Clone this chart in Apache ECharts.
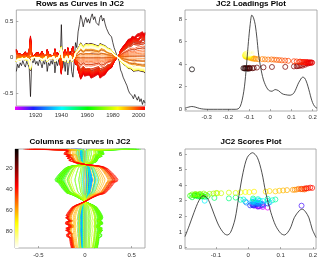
<!DOCTYPE html>
<html><head><meta charset="utf-8">
<script src="https://cdn.jsdelivr.net/npm/echarts@6/dist/echarts.min.js"></script>
<style>html,body{margin:0;padding:0;background:#fff}#c{width:320px;height:259px}</style>
</head><body><div id="c"></div>
<script>
// ---- data ----
const years = [1905,1906,1907,1908,1909,1910,1911,1912,1913,1914,1915,1916,1917,1918,1919,1920,1921,1922,1923,1924,1925,1926,1927,1928,1929,1930,1931,1932,1933,1934,1935,1936,1937,1938,1939,1940,1941,1942,1943,1944,1945,1946,1947,1948,1949,1950,1951,1952,1953,1954,1955,1956,1957,1958,1959,1960,1961,1962,1963,1964,1965,1966,1967,1968,1969,1970,1971,1972,1973,1974,1975,1976,1977,1978,1979,1980,1981,1982,1983,1984,1985,1986,1987,1988,1989,1990,1991,1992,1993,1994,1995,1996,1997,1998,1999,2000,2001,2002,2003,2004,2005];
const columns = [1,2,3,4,5,6,7,8,9,10,11,12,13,14,15,16,17,18,19,20,21,22,23,24,25,26,27,28,29,30,31,32,33,34,35,36,37,38,39,40,41,42,43,44,45,46,47,48,49,50,51,52,53,54,55,56,57,58,59,60,61,62,63,64,65,66,67,68,69,70,71,72,73,74,75,76,77,78,79,80,81,82,83,84,85,86,87,88,89,90,91,92,93,94,95,96];
const singularValue = 9.0;
const rowScores = [
 0.060,0.030,0.045,0.024,0.036,0.015,0.030,0.042,0.018,0.030,
 0.045,0.165,0.015,0.024,0.006,0.030,0.018,0.036,0.012,0.024,
 0.045,0.018,0.030,-0.006,0.060,0.024,0.036,0.015,0.030,-0.009,
 0.066,0.018,0.036,0.012,0.030,-0.135,0.045,0.015,0.060,-0.015,
 0.075,0.030,-0.024,0.060,0.084,0.015,-0.060,-0.039,-0.105,-0.135,
 -0.174,-0.156,-0.126,-0.150,-0.165,-0.144,-0.159,-0.141,-0.165,-0.180,
 -0.156,-0.168,-0.144,-0.150,-0.132,-0.165,-0.174,-0.150,-0.162,-0.138,
 -0.120,-0.108,-0.096,-0.099,-0.084,-0.060,-0.039,-0.024,-0.009,0.003,
 0.018,0.054,0.066,0.084,0.096,0.108,0.120,0.138,0.150,0.144,
 0.162,0.174,0.156,0.168,0.180,0.165,0.186,0.174,0.198,0.180,
 0.192];
const scoreY = [
 2.56,2.66,2.60,2.70,2.64,2.72,2.66,2.74,2.68,2.62,
 2.70,2.68,2.72,2.78,2.70,2.80,2.74,2.82,2.76,2.84,
 2.78,2.86,2.80,2.88,2.82,2.90,2.86,2.92,2.88,2.95,
 2.90,2.96,3.00,2.94,3.02,3.00,2.98,3.05,3.00,3.08,
 3.03,3.10,3.06,3.12,3.08,3.14,3.15,3.20,3.18,3.25,
 3.22,3.28,3.30,3.26,3.32,3.28,3.34,3.30,3.36,3.32,
 3.38,3.34,3.36,3.40,3.38,3.42,3.40,3.44,3.42,3.46,
 3.44,3.46,3.48,3.50,3.48,3.52,3.50,3.54,3.56,3.55,
 3.58,3.58,3.62,3.60,3.64,3.66,3.68,3.70,3.72,3.70,
 3.74,3.72,3.76,3.74,3.78,3.76,3.80,3.78,3.82,3.80,
 3.84];
const colLoadings = [
 -0.370,-0.118,-0.105,-0.122,-0.110,-0.127,-0.100,-0.115,-0.095,-0.108,
 -0.085,-0.098,-0.078,-0.063,-0.032,0.008,0.071,0.112,0.125,0.138,
 0.130,0.152,0.145,0.165,0.158,0.178,0.170,0.188,0.182,0.198,
 0.190,0.195,0.178,0.186,0.170,0.176,0.160,0.165,0.150,0.155,
 0.138,0.142,0.125,0.112,0.085,0.070,0.055,0.042,0.030,0.018,
 0.006,-0.010,-0.025,-0.038,-0.057,-0.068,-0.080,-0.074,-0.090,-0.085,
 -0.100,-0.092,-0.108,-0.098,-0.115,-0.102,-0.118,-0.105,-0.112,-0.096,
 -0.116,-0.104,-0.118,-0.100,-0.112,-0.098,-0.116,-0.102,-0.118,-0.104,
 -0.114,-0.098,-0.112,-0.100,-0.110,-0.094,-0.106,-0.092,-0.104,-0.090,
 -0.100,-0.088,-0.096,-0.085,-0.092,-0.082];
const loadingY = [
 3.54,3.62,3.60,3.63,3.61,3.64,3.62,3.65,3.63,3.66,
 3.64,3.67,3.66,3.70,3.72,3.75,3.76,3.80,3.82,3.84,
 3.83,3.86,3.90,3.95,4.00,4.05,4.08,4.12,4.10,4.14,
 4.16,4.13,4.17,4.15,4.18,4.16,4.19,4.17,4.20,4.18,
 4.21,4.22,4.24,4.26,4.30,4.32,4.34,4.36,4.38,4.40,
 4.42,4.41,4.43,4.45,4.44,4.46,4.48,4.50,4.52,4.55,
 4.58,4.60,4.62,4.64,4.66,4.68,4.70,4.72,4.73,4.75,
 4.76,4.78,4.79,4.80,4.82,4.83,4.84,4.86,4.87,4.88,
 4.89,4.90,4.91,4.92,4.93,4.94,4.95,4.96,4.97,4.98,
 4.99,5.00,5.01,5.02,5.03,5.04];
const loadDensX = [-0.403,-0.385,-0.371,-0.355,-0.335,-0.316,-0.29,-0.25,-0.2,-0.166,-0.152,-0.142,-0.133,-0.125,-0.119,-0.111,-0.103,-0.095,-0.087,-0.079,-0.071,-0.063,-0.056,-0.048,-0.040,-0.032,-0.024,-0.016,-0.008,0.000,0.008,0.016,0.023,0.031,0.039,0.047,0.055,0.063,0.071,0.083,0.094,0.102,0.110,0.118,0.126,0.134,0.142,0.148,0.154,0.162,0.170,0.178,0.186,0.193,0.200,0.210,0.221];
const loadDensY = [0.10,0.20,0.25,0.20,0.08,0.02,0.00,0.00,0.00,0.00,0.04,0.25,0.80,1.60,2.50,4.20,6.00,7.50,8.35,8.10,7.50,6.30,5.00,4.00,3.20,2.60,2.20,1.90,1.70,1.62,1.60,1.68,1.75,1.72,1.65,1.52,1.40,1.33,1.30,1.26,1.25,1.30,1.40,1.65,2.00,2.35,2.60,2.78,2.85,2.78,2.50,2.05,1.50,1.00,0.60,0.25,0.10];
const scoreDensX = [-0.196,-0.183,-0.168,-0.153,-0.140,-0.128,-0.118,-0.106,-0.091,-0.075,-0.065,-0.055,-0.041,-0.029,-0.016,-0.003,0.013,0.028,0.042,0.054,0.070,0.085,0.101,0.112,0.129,0.143,0.158,0.167,0.177,0.188,0.198,0.210];
const scoreDensY = [0.70,1.39,2.25,3.00,3.32,3.20,2.80,2.14,1.39,0.90,0.80,0.96,1.82,3.32,4.82,5.78,6.08,5.78,4.82,3.53,2.25,1.39,0.90,0.80,1.18,1.93,2.36,2.46,2.30,1.90,1.18,0.64];
const yearTicks = [1920,1940,1960,1980,2000];
const rowValTicks = [-0.5,0,0.5];
const loadXTicks = [-0.3,-0.2,-0.1,0,0.1,0.2];
const loadYTicks = [0,2,4,6,8];
const colIdxTicks = [20,40,60,80];
const colValTicks = [-0.5,0,0.5];
const scoreXTicks = [-0.1,0,0.1,0.2];
const scoreYTicks = [0,1,2,3,4,5,6];
const titles = ['Rows as Curves in JC2','JC2 Loadings Plot','Columns as Curves in JC2','JC2 Scores Plot'];

// ---- colours ----
function hotColor(k, m) { // MATLAB hot(m), k 1-based
  const n = Math.floor(3 * m / 8);
  const r = Math.min(k / n, 1);
  const g = Math.max(0, Math.min((k - n) / n, 1));
  const b = Math.max(0, Math.min((k - 2 * n) / (m - 2 * n), 1));
  return 'rgb(' + Math.round(r * 255) + ',' + Math.round(g * 255) + ',' + Math.round(b * 255) + ')';
}
const rainbowStops = [[0,[238,0,255]],[0.14,[30,30,255]],[0.36,[0,255,255]],[0.56,[0,255,0]],[0.79,[255,255,0]],[0.9,[255,128,0]],[1,[255,0,0]]];
function rainbow(p) {
  for (let i = 1; i < rainbowStops.length; i++) {
    if (p <= rainbowStops[i][0]) {
      const a = rainbowStops[i - 1], b = rainbowStops[i];
      const f = (p - a[0]) / (b[0] - a[0]);
      const c = a[1].map((v, q) => Math.round(v + (b[1][q] - v) * f));
      return 'rgb(' + c.join(',') + ')';
    }
  }
  return 'rgb(255,0,0)';
}
const nCol = columns.length, nRow = years.length;
const colColor = columns.map(c => hotColor(c, nCol));
const yearColor = years.map((y, i) => rainbow(i / (nRow - 1)));

// ---- options ----
const FONT = 'Liberation Sans';
const lab = (margin, vals) => ({ fontSize: 6, color: '#333', fontFamily: FONT, margin: margin, customValues: vals, formatter: v => String(+(+v).toFixed(3)) });
const tick = (vals) => ({ show: true, inside: true, length: 2, customValues: vals, lineStyle: { color: '#777', width: 0.6 } });
const noLine = { show: false, onZero: false };
const gridBase = { show: true, borderColor: '#999', borderWidth: 0.8, backgroundColor: 'transparent' };

const series = [];
// top-left: each column as a curve over years
columns.forEach((c, j) => {
  series.push({
    type: 'line', xAxisIndex: 0, yAxisIndex: 0, symbol: 'none', silent: true,
    lineStyle: { width: 0.7, color: colColor[j] },
    data: years.map((y, i) => [y, singularValue * rowScores[i] * colLoadings[j]])
  });
});
// bottom-left: each year as a curve over columns
years.forEach((y, i) => {
  series.push({
    type: 'line', xAxisIndex: 2, yAxisIndex: 2, symbol: 'none', silent: true,
    lineStyle: { width: 0.7, color: yearColor[i] },
    data: columns.map((c, j) => [singularValue * rowScores[i] * colLoadings[j], c])
  });
});
// top-right: loadings density + points
series.push({
  type: 'line', xAxisIndex: 1, yAxisIndex: 1, symbol: 'none', smooth: 0.3, silent: true,
  lineStyle: { width: 0.8, color: '#222' },
  data: loadDensX.map((x, i) => [x, loadDensY[i]])
});
series.push({
  type: 'scatter', xAxisIndex: 1, yAxisIndex: 1, symbol: 'circle', symbolSize: 5, silent: true,
  data: colLoadings.map((v, j) => ({ value: [v, loadingY[j]], itemStyle: { color: 'rgba(0,0,0,0)', borderColor: colColor[j], borderWidth: 0.9 } }))
});
// bottom-right: scores density + points
series.push({
  type: 'line', xAxisIndex: 3, yAxisIndex: 3, symbol: 'none', smooth: 0.3, silent: true,
  lineStyle: { width: 0.8, color: '#222' },
  data: scoreDensX.map((x, i) => [x, scoreDensY[i]])
});
series.push({
  type: 'scatter', xAxisIndex: 3, yAxisIndex: 3, symbol: 'circle', symbolSize: 5, silent: true,
  data: rowScores.map((u, i) => ({ value: [u, scoreY[i]], itemStyle: { color: 'rgba(0,0,0,0)', borderColor: yearColor[i], borderWidth: 0.9 } }))
});

const chart = echarts.init(document.getElementById('c'), null, { renderer: 'canvas' });
const rbStops = rainbowStops.map(s => ({ offset: s[0], color: 'rgb(' + s[1].join(',') + ')' }));
chart.setOption({
  animation: false,
  backgroundColor: '#fff',
  title: [
    { text: titles[0], left: 80, top: 0, textAlign: 'center', padding: 0 },
    { text: titles[1], left: 251, top: 0, textAlign: 'center', padding: 0 },
    { text: titles[2], left: 80, top: 138, textAlign: 'center', padding: 0 },
    { text: titles[3], left: 251, top: 138, textAlign: 'center', padding: 0 }
  ].map(t => Object.assign(t, { textStyle: { fontSize: 8, fontWeight: 'bold', color: '#000', fontFamily: FONT } })),
  grid: [
    Object.assign({ left: 15, top: 10, width: 130, height: 96 }, gridBase),
    Object.assign({ left: 185, top: 10, width: 132, height: 101 }, gridBase),
    Object.assign({ left: 15, top: 149, width: 130, height: 99 }, gridBase),
    Object.assign({ left: 185, top: 149, width: 132, height: 100 }, gridBase)
  ],
  xAxis: [
    { gridIndex: 0, type: 'value', min: 1905, max: 2005, axisLine: noLine, splitLine: { show: false }, axisTick: { show: false }, axisLabel: lab(6, yearTicks) },
    { gridIndex: 1, type: 'value', min: -0.403, max: 0.221, axisLine: noLine, splitLine: { show: false }, axisTick: tick(loadXTicks), axisLabel: lab(3, loadXTicks) },
    { gridIndex: 2, type: 'value', min: -0.75, max: 0.643, axisLine: noLine, splitLine: { show: false }, axisTick: tick(colValTicks), axisLabel: lab(4.5, colValTicks) },
    { gridIndex: 3, type: 'value', min: -0.196, max: 0.21, axisLine: noLine, splitLine: { show: false }, axisTick: tick(scoreXTicks), axisLabel: lab(3.5, scoreXTicks) }
  ],
  yAxis: [
    { gridIndex: 0, type: 'value', min: -0.68, max: 0.653, axisLine: noLine, splitLine: { show: false }, axisTick: tick(rowValTicks), axisLabel: lab(3, rowValTicks) },
    { gridIndex: 1, type: 'value', min: -0.15, max: 8.8, axisLine: noLine, splitLine: { show: false }, axisTick: tick(loadYTicks), axisLabel: lab(3, loadYTicks) },
    { gridIndex: 2, type: 'value', min: 1, max: 96, inverse: true, axisLine: noLine, splitLine: { show: false }, axisTick: tick(colIdxTicks), axisLabel: lab(2.5, colIdxTicks) },
    { gridIndex: 3, type: 'value', min: -0.1, max: 6.32, axisLine: noLine, splitLine: { show: false }, axisTick: tick(scoreYTicks), axisLabel: lab(3, scoreYTicks) }
  ],
  graphic: [
    { type: 'rect', z: 100, silent: true, shape: { x: 15, y: 106.5, width: 130, height: 3.5 },
      style: { fill: new echarts.graphic.LinearGradient(0, 0, 1, 0, rbStops) } },
    { type: 'rect', z: 100, silent: true, shape: { x: 15, y: 149, width: 3.5, height: 99 },
      style: { fill: new echarts.graphic.LinearGradient(0, 0, 0, 1, [
        { offset: 0, color: '#000' }, { offset: 0.375, color: '#f00' }, { offset: 0.75, color: '#ff0' }, { offset: 1, color: '#fff' }]) } }
  ],
  series: series
});
</script></body></html>
